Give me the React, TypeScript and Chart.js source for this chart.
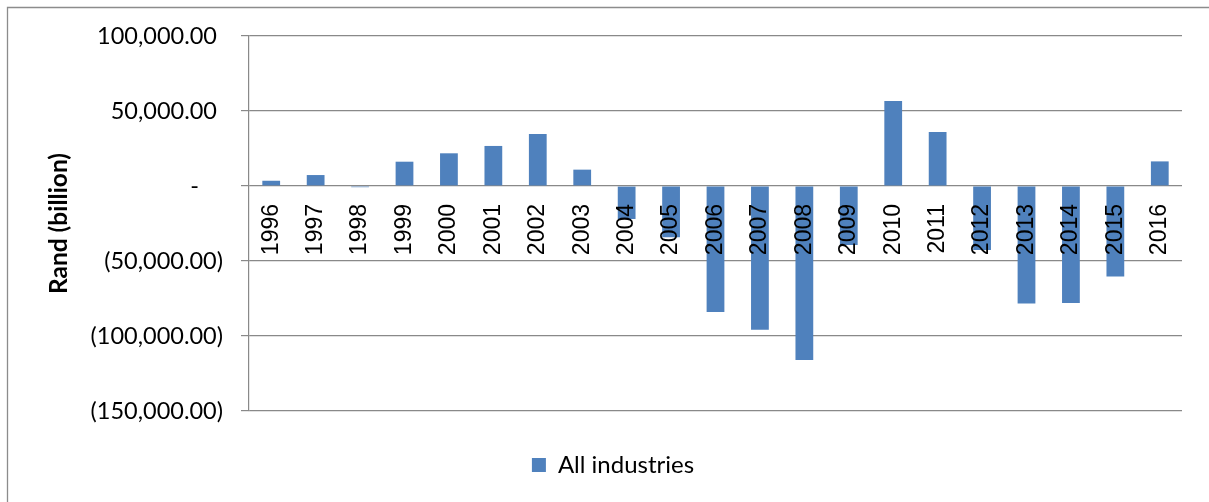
import React, { useEffect, useRef } from 'react';
import { Chart, registerables } from 'chart.js';

Chart.register(...registerables);

const categories = [
  '1996', '1997', '1998', '1999', '2000', '2001', '2002', '2003', '2004', '2005', '2006',
  '2007', '2008', '2009', '2010', '2011', '2012', '2013', '2014', '2015', '2016',
];
const seriesName = 'All industries';
const allIndustries = [
  3500, 7300, -800, 16200, 21800, 26700, 34700, 10900, -22000, -34200, -84000,
  -95800, -116000, -39300, 56700, 36000, -42700, -78400, -78000, -60400, 16400,
];
const yMin = -150000;
const yMax = 100000;
const yStep = 50000;
const yTitle = 'Rand (billion)';

function formatTick(v: number): string {
  const abs = Math.abs(v).toLocaleString('en-US', { minimumFractionDigits: 2, maximumFractionDigits: 2 });
  if (v === 0) return '-    ';
  if (v < 0) return '(' + abs + ')';
  return abs + ' ';
}

export default function App() {
  const ref = useRef<HTMLCanvasElement>(null);

  useEffect(() => {
    document.body.style.margin = '0';
    const frame = {
      id: 'frame',
      beforeDraw(chart: any) {
        const ctx = chart.ctx;
        ctx.save();
        ctx.fillStyle = '#ffffff';
        ctx.fillRect(0, 0, chart.width, chart.height);
        ctx.strokeStyle = '#8c8c8c';
        ctx.lineWidth = 1.3;
        ctx.beginPath();
        ctx.moveTo(7.5, chart.height);
        ctx.lineTo(7.5, 7.5);
        ctx.lineTo(chart.width, 7.5);
        ctx.stroke();
        ctx.restore();
      },
    };
    const chart = new Chart(ref.current as HTMLCanvasElement, {
      type: 'bar',
      data: {
        labels: categories,
        datasets: [
          {
            label: seriesName,
            data: allIndustries,
            backgroundColor: '#4F81BD',
            barPercentage: 0.4,
            categoryPercentage: 1,
          },
        ],
      },
      options: {
        animation: false,
        responsive: false,
        maintainAspectRatio: false,
        layout: { padding: { left: 44, right: 27, top: 36, bottom: 15 } },
        plugins: {
          tooltip: { enabled: false },
          legend: {
            position: 'bottom',
            labels: {
              boxWidth: 14,
              boxHeight: 14,
              padding: 42,
              color: '#000',
              font: { family: 'Lato', size: 24 },
            },
          },
        },
        scales: {
          x: {
            position: { y: 0 },
            grid: { display: false, drawTicks: false },
            border: { display: false },
            ticks: {
              z: 1,
              autoSkip: false,
              minRotation: 90,
              maxRotation: 90,
              padding: 18,
              color: '#000',
              font: { family: 'Liberation Sans', size: 23 },
            },
          },
          y: {
            min: yMin,
            max: yMax,
            afterFit: (s: any) => {
              s.width = 205;
            },
            ticks: {
              stepSize: yStep,
              padding: 18,
              color: '#000',
              font: { family: 'Lato', size: 23.5 },
              callback: (v: any) => formatTick(Number(v)),
            },
            grid: { color: '#898989', lineWidth: 1.2, tickLength: 8, drawTicks: true },
            border: { color: '#898989', width: 1.2 },
            title: {
              display: true,
              text: yTitle,
              color: '#000',
              font: { family: 'Lato', size: 24.5, weight: 'bold' },
              padding: { top: 0, bottom: 0 },
            },
          },
        },
      },
      plugins: [frame],
    });
    return () => chart.destroy();
  }, []);

  return <canvas ref={ref} width={1209} height={502} style={{ display: 'block' }} />;
}
